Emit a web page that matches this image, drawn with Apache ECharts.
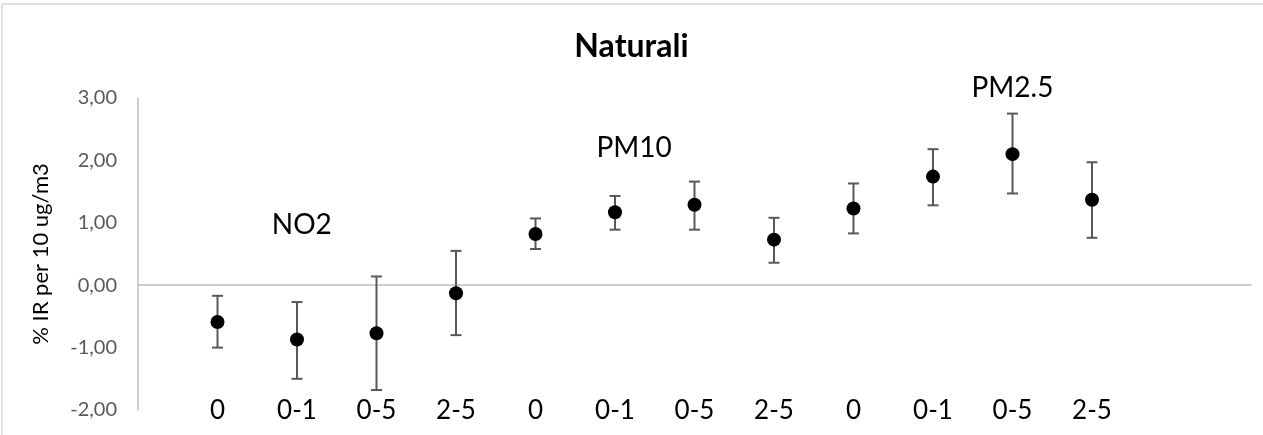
<!DOCTYPE html>
<html>
<head>
<meta charset="utf-8">
<script src="https://cdn.jsdelivr.net/npm/echarts@6/dist/echarts.min.js"></script>
<style>
  html, body { margin: 0; padding: 0; background: #fff; }
  #main { width: 1263px; height: 435px; }
</style>
</head>
<body>
<div id="main"></div>
<script>
// lag labels under each point (3 pollutants x 4 lags)
const lagLabels = ['0', '0-1', '0-5', '2-5', '0', '0-1', '0-5', '2-5', '0', '0-1', '0-5', '2-5'];
const positions = [1, 2, 3, 4, 5, 6, 7, 8, 9, 10, 11, 12];
const estimates = [-0.59, -0.87, -0.77, -0.13, 0.82, 1.17, 1.29, 0.73, 1.23, 1.74, 2.10, 1.37];
const lowerCI = [-1.00, -1.50, -1.68, -0.80, 0.58, 0.89, 0.89, 0.36, 0.83, 1.28, 1.47, 0.76];
const upperCI = [-0.17, -0.27, 0.14, 0.55, 1.07, 1.43, 1.66, 1.08, 1.63, 2.18, 2.75, 1.97];
const yTicks = [-2, -1, 0, 1, 2, 3];
// group names, placed in data coordinates
const groupNames = [
  { text: 'NO2', x: 2.06, y: 0.96 },
  { text: 'PM10', x: 6.24, y: 2.2 },
  { text: 'PM2.5', x: 11.0, y: 3.16 }
];

const font = 'Lato, "Liberation Sans", sans-serif';
const chart = echarts.init(document.getElementById('main'));

const points = positions.map((p, i) => [p, estimates[i]]);
const bars = positions.map((p, i) => [p, lowerCI[i], upperCI[i]]);

const option = {
  animation: false,
  textStyle: { fontFamily: font },
  title: {
    text: 'Naturali',
    left: 'center',
    top: 26,
    textStyle: { fontFamily: font, fontSize: 32, fontWeight: 'bold', color: '#000' }
  },
  grid: { left: 138, right: 12, top: 98, bottom: 25 },
  xAxis: [
    {
      type: 'value', min: 0, max: 14, interval: 1,
      axisLine: { onZero: true, lineStyle: { color: '#bfbfbf', width: 1.5 } },
      axisTick: { show: false },
      axisLabel: { show: false },
      splitLine: { show: false }
    },
    {
      type: 'value', min: 0, max: 14, interval: 1, position: 'bottom',
      axisLine: { show: false, onZero: false },
      axisTick: { show: false },
      splitLine: { show: false },
      axisLabel: {
        margin: 1,
        verticalAlign: 'middle',
        fontSize: 26,
        color: '#000',
        fontFamily: font,
        formatter: v => (v >= 1 && v <= 12 ? lagLabels[v - 1] : '')
      }
    }
  ],
  yAxis: {
    type: 'value', min: yTicks[0], max: yTicks[yTicks.length - 1], interval: 1,
    name: '% IR per 10 ug/m3',
    nameLocation: 'middle',
    nameRotate: 90,
    nameGap: 86,
    nameTextStyle: { fontSize: 22, color: '#000', fontFamily: font },
    axisLine: { show: true, onZero: false, lineStyle: { color: '#bfbfbf', width: 1.5 } },
    axisTick: { show: false },
    splitLine: { show: false },
    axisLabel: {
      margin: 21,
      fontSize: 20,
      color: '#595959',
      fontFamily: font,
      formatter: v => v.toFixed(2).replace('.', ',')
    }
  },
  series: [
    {
      type: 'custom',
      xAxisIndex: 0,
      data: bars,
      z: 2,
      renderItem: (params, api) => {
        const lo = api.coord([api.value(0), api.value(1)]);
        const hi = api.coord([api.value(0), api.value(2)]);
        const w = 5.5;
        const style = { stroke: '#595959', lineWidth: 2 };
        return {
          type: 'group',
          children: [
            { type: 'line', shape: { x1: hi[0], y1: hi[1], x2: lo[0], y2: lo[1] }, style },
            { type: 'line', shape: { x1: hi[0] - w, y1: hi[1], x2: hi[0] + w, y2: hi[1] }, style },
            { type: 'line', shape: { x1: lo[0] - w, y1: lo[1], x2: lo[0] + w, y2: lo[1] }, style }
          ]
        };
      }
    },
    {
      type: 'scatter',
      xAxisIndex: 0,
      data: points,
      symbol: 'circle',
      symbolSize: 14,
      z: 3,
      itemStyle: { color: '#000', opacity: 1 }
    }
  ]
};
chart.setOption(option);

// outer chart border and group names
const graphics = [{
  type: 'rect',
  shape: { x: 2, y: 4, width: 1262, height: 440 },
  style: { fill: 'none', stroke: '#d9d9d9', lineWidth: 1.5 },
  silent: true
}];
groupNames.forEach(g => {
  const pt = chart.convertToPixel({ xAxisIndex: 0, yAxisIndex: 0 }, [g.x, g.y]);
  graphics.push({
    type: 'text',
    x: pt[0], y: pt[1],
    style: {
      text: g.text, fontSize: 28, fontFamily: font, fill: '#000',
      align: 'center', verticalAlign: 'middle'
    }
  });
});
chart.setOption({ graphic: graphics });
</script>
</body>
</html>
